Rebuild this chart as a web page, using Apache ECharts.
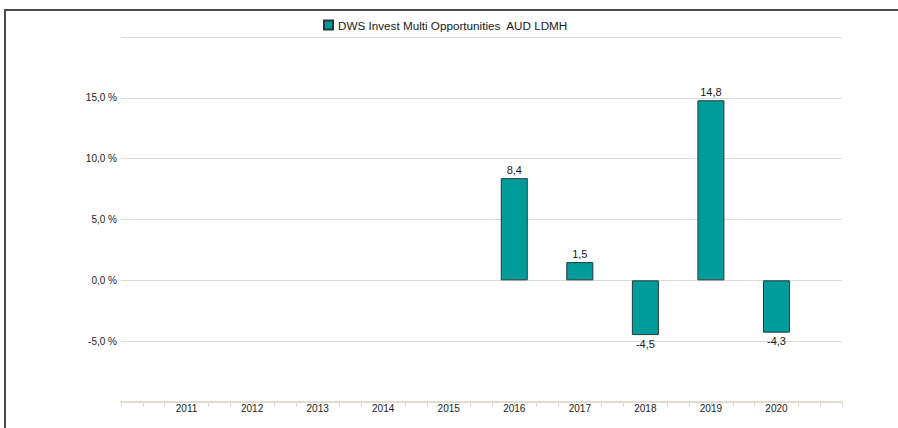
<!DOCTYPE html>
<html>
<head>
<meta charset="utf-8">
<script src="https://cdn.jsdelivr.net/npm/echarts@6/dist/echarts.min.js"></script>
<style>
  html, body { margin: 0; padding: 0; background: #fff; }
  #wrap { position: relative; width: 898px; height: 428px; overflow: hidden; }
  #frame { position: absolute; left: 4px; top: 9px; right: -4px; bottom: -4px;
           border-top: 2px solid #4a4a4a; border-left: 2px solid #4a4a4a; }
  #chart { position: absolute; left: 0; top: 0; width: 898px; height: 428px; }
</style>
</head>
<body>
<div id="wrap">
  <div id="frame"></div>
  <div id="chart"></div>
</div>
<script>
var seriesName = 'DWS Invest Multi Opportunities  AUD LDMH';
var years = ['2011', '2012', '2013', '2014', '2015', '2016', '2017', '2018', '2019', '2020'];
var returns = [null, null, null, null, null, 8.4, 1.5, -4.5, 14.8, -4.3];
var yTicks = [-5, 0, 5, 10, 15];

var teal = '#009c9c';
var edge = '#1e3c3c';
var gridCol = '#dcdbd3';
var axisCol = '#e0dccf';
var txt = '#222';

function fmt1(v) { return v.toFixed(1).replace('.', ','); }

var chart = echarts.init(document.getElementById('chart'), null, { renderer: 'svg' });
chart.setOption({
  animation: false,
  legend: {
    top: 14,
    left: 318,
    itemWidth: 9, itemHeight: 9,
    itemGap: 5,
    textStyle: { color: '#1a1a1a', fontFamily: 'Liberation Sans', fontSize: 11.7 },
    data: [{ name: seriesName, icon: 'rect' }]
  },
  grid: { left: 121, right: 56, top: 37, bottom: 26 },
  xAxis: {
    type: 'value',
    min: 0, max: years.length + 1, interval: 1,
    axisLine: { onZero: false, lineStyle: { color: axisCol, width: 2 } },
    axisTick: { show: true, length: 5, lineStyle: { color: axisCol } },
    minorTick: { show: true, splitNumber: 3, length: 5, lineStyle: { color: axisCol } },
    splitLine: { show: false },
    axisLabel: {
      margin: 1,
      color: txt, fontFamily: 'Liberation Sans', fontSize: 10,
      formatter: function(v) { return years[v - 1] || ''; }
    }
  },
  yAxis: {
    type: 'value',
    min: -10, max: 20, interval: 5,
    axisLine: { show: false },
    axisTick: { show: false },
    splitLine: { lineStyle: { color: gridCol, width: 1 } },
    axisLabel: {
      margin: 4,
      color: txt, fontFamily: 'Liberation Sans', fontSize: 10,
      formatter: function(v) { return yTicks.indexOf(v) >= 0 ? fmt1(v) + ' %' : ''; }
    }
  },
  series: [{
    name: seriesName,
    type: 'bar',
    barWidth: 27,
    itemStyle: { color: teal, borderColor: edge, borderWidth: 1 },
    data: years.map(function(y, i) {
      var v = returns[i];
      if (v === null) return [i + 1, null];
      return {
        value: [i + 1, v],
        label: {
          show: true,
          position: v >= 0 ? 'top' : 'bottom',
          distance: 3,
          color: '#1a1a1a', fontFamily: 'Liberation Sans', fontSize: 11,
          formatter: function(p) { return fmt1(p.value[1]); }
        }
      };
    })
  }]
});
</script>
</body>
</html>
